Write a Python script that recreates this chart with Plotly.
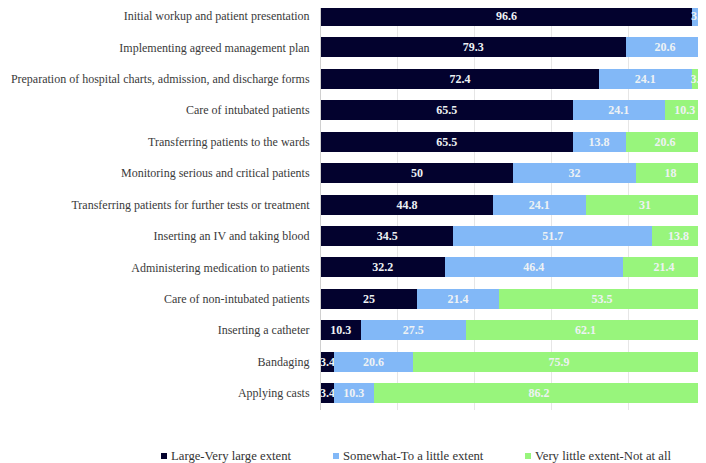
import plotly.graph_objects as go

categories = [
    "Initial workup and patient presentation",
    "Implementing agreed management plan",
    "Preparation of hospital charts, admission, and discharge forms",
    "Care of intubated patients",
    "Transferring patients to the wards",
    "Monitoring serious and critical patients",
    "Transferring patients for further tests or treatment",
    "Inserting an IV and taking blood",
    "Administering medication to patients",
    "Care of non-intubated patients",
    "Inserting a catheter",
    "Bandaging",
    "Applying casts",
]
large = [96.6, 79.3, 72.4, 65.5, 65.5, 50, 44.8, 34.5, 32.2, 25, 10.3, 3.4, 3.4]
somewhat = [3.4, 20.6, 24.1, 24.1, 13.8, 32, 24.1, 51.7, 46.4, 21.4, 27.5, 20.6, 10.3]
little = [0, 0, 3.4, 10.3, 20.6, 18, 31, 13.8, 21.4, 53.5, 62.1, 75.9, 86.2]

series = [
    ("Large-Very large extent", large, "#03022E"),
    ("Somewhat-To a little extent", somewhat, "#82B8F7"),
    ("Very little extent-Not at all", little, "#98F57C"),
]

W, H = 698, 455
L, R, T, B = 313, 1, 0, 53
PW, PH = W - L - R, H - T - B

fig = go.Figure()
for name, vals, color in series:
    fig.add_trace(go.Bar(
        y=categories, x=vals, name=name, orientation="h",
        marker=dict(color=color, line=dict(width=0)),
        text=[("%g" % v) if v else "" for v in vals],
        textposition="inside", insidetextanchor="middle", textangle=0,
        textfont=dict(family="Liberation Serif", size=12, color="#EEF2F4", weight="bold"),
        constraintext="none", cliponaxis=False, showlegend=False,
    ))

# legend drawn manually: small squares + labels
legend_marker_x = [153, 325, 517]   # figure px (left edge of square)
legend_y = 448                       # figure px (centre)
for (name, vals, color), mx in zip(series, legend_marker_x):
    fig.add_shape(
        type="rect", xref="paper", yref="paper",
        x0=(mx - L) / PW, x1=(mx + 6 - L) / PW,
        y0=(PH - (legend_y + 3)) / PH, y1=(PH - (legend_y - 3)) / PH,
        fillcolor=color, line=dict(width=0),
    )
    fig.add_annotation(
        xref="paper", yref="paper", x=(mx + 8 - L) / PW, y=(PH - legend_y) / PH,
        xanchor="left", yanchor="middle", showarrow=False, text=name,
        font=dict(family="Liberation Serif", size=12.7, color="#333333"),
    )

fig.update_layout(
    width=W, height=H, barmode="stack", bargap=0.364,
    margin=dict(l=L, r=R, t=T, b=B, pad=0, autoexpand=False),
    paper_bgcolor="white", plot_bgcolor="white",
    font=dict(family="Liberation Serif", size=12, color="#3A3A3A"),
    uniformtext=dict(minsize=12, mode="show"),
    xaxis=dict(range=[0, 100], dtick=20, showticklabels=False, showgrid=True,
               gridcolor="#E6E6E6", gridwidth=1, zeroline=False, automargin=False),
    yaxis=dict(range=[12.54, -0.254], showline=True, linecolor="#D0D0D0",
               ticks="", ticklabelstandoff=8, automargin=False,
               tickfont=dict(size=12, color="#3A3A3A")),
    showlegend=False,
)
fig.write_html("out.html")
